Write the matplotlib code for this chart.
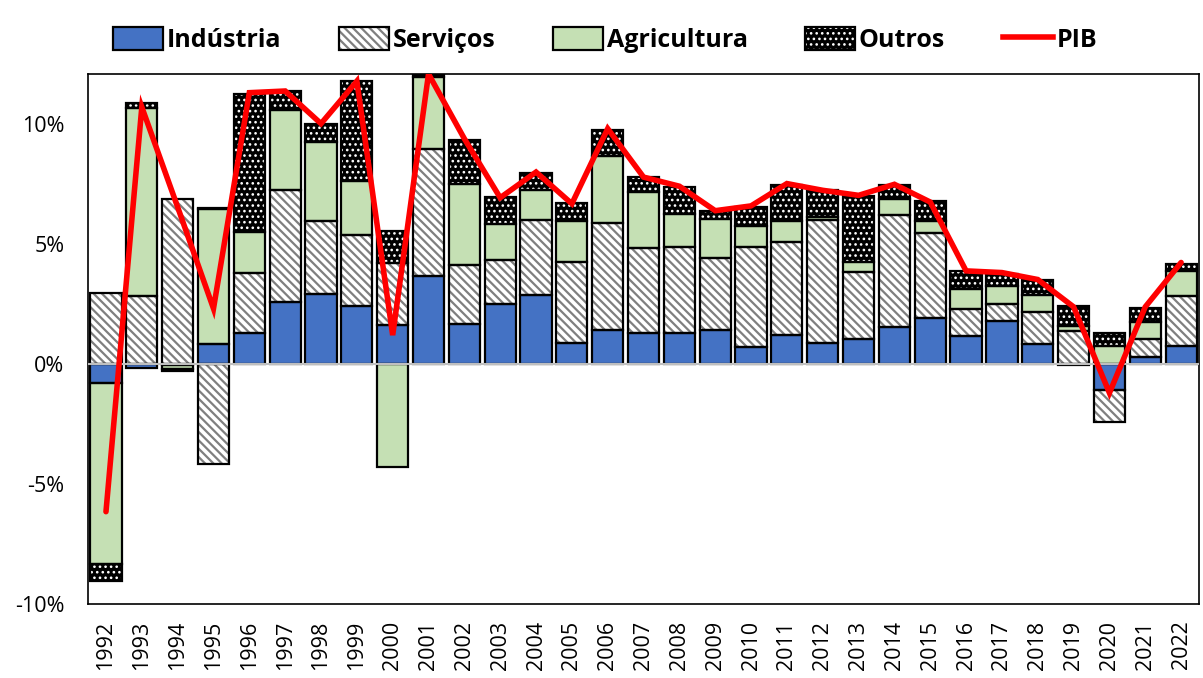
import numpy as np
import matplotlib.pyplot as plt
from matplotlib.patches import Patch, Rectangle
from matplotlib.lines import Line2D
from matplotlib.legend_handler import HandlerTuple, HandlerPatch

plt.rcParams['font.family'] = ['Open Sans', 'DejaVu Sans']

anos = list(range(1992, 2023))

industria = [-0.80, -0.17, -0.05, 0.83, 1.32, 2.58, 2.94, 2.43, 1.63, 3.67,
             1.69, 2.49, 2.88, 0.90, 1.42, 1.31, 1.31, 1.44, 0.72, 1.21,
             0.90, 1.03, 1.53, 1.93, 1.18, 1.79, 0.83, -0.05, -1.08, 0.28, 0.76]
servicos = [2.95, 2.83, 6.89, -4.17, 2.50, 4.67, 3.03, 2.96, 2.59, 5.32,
            2.44, 1.87, 3.12, 3.36, 4.48, 3.55, 3.58, 3.00, 4.17, 3.89,
            5.13, 2.80, 4.71, 3.54, 1.14, 0.74, 1.35, 1.39, -1.32, 0.79, 2.07]
agricultura = [-7.53, 7.87, -0.15, 5.63, 1.71, 3.33, 3.31, 2.24, -4.30, 2.98,
               3.37, 1.47, 1.28, 1.70, 2.77, 2.32, 1.36, 1.60, 0.86, 0.87,
               0.11, 0.41, 0.63, 0.49, 0.83, 0.73, 0.70, 0.21, 0.75, 0.69, 1.06]
outros = [-0.71, 0.19, -0.10, 0.05, 5.75, 0.80, 0.72, 4.16, 1.32, 0.10,
          1.86, 1.14, 0.71, 0.76, 1.11, 0.63, 1.14, 0.35, 0.81, 1.50,
          1.11, 2.79, 0.60, 0.83, 0.74, 0.52, 0.62, 0.83, 0.53, 0.60, 0.30]
pib = [-6.15, 10.72, 6.55, 2.32, 11.32, 11.39, 10.03, 11.80, 1.21, 12.10,
       9.40, 6.94, 8.01, 6.69, 9.82, 7.80, 7.42, 6.40, 6.60, 7.53,
       7.25, 7.04, 7.50, 6.76, 3.89, 3.82, 3.53, 2.39, -1.20, 2.39, 4.24]

# nome, valores, cor, hachura, cor da hachura, espessura da hachura
series = [
    ('Indústria', industria, '#4472C4', None, '#4472C4', 1.0),
    ('Serviços', servicos, 'white', '\\\\\\\\', '#7F7F7F', 1.6),
    ('Agricultura', agricultura, '#C5E0B4', None, '#C5E0B4', 1.0),
    ('Outros', outros, 'black', '...', 'white', 1.1),
]

fig = plt.figure(figsize=(12.03, 6.78), dpi=100)
ax = fig.add_axes([0.0732, 0.1091, 0.9235, 0.7818])


def make_patch_func(fc, hatch, hc, hlw):
    # cria o retângulo da legenda com a espessura certa da hachura
    def f(legend, orig_handle, xdescent, ydescent, width, height, fontsize):
        plt.rcParams['hatch.linewidth'] = hlw
        return Rectangle((-xdescent, -ydescent), width, height,
                         facecolor=fc, hatch=hatch, edgecolor=hc, linewidth=0)
    return f


x = np.arange(len(anos))
w = 0.87
pos_base = np.zeros(len(anos))
neg_base = np.zeros(len(anos))
handles = []
hmap = {tuple: HandlerTuple(ndivide=1)}
for nome, vals, fc, hatch, hc, hlw in series:
    plt.rcParams['hatch.linewidth'] = hlw
    v = np.array(vals)
    base = np.where(v >= 0, pos_base, neg_base)
    ax.bar(x, v, w, bottom=base, color=fc, hatch=hatch, edgecolor=hc,
           linewidth=0, zorder=2)
    ax.bar(x, v, w, bottom=base, fill=False, edgecolor='black',
           linewidth=1.6, zorder=3)
    pos_base = np.where(v >= 0, pos_base + v, pos_base)
    neg_base = np.where(v < 0, neg_base + v, neg_base)
    p1 = Patch(facecolor=fc, hatch=hatch, edgecolor=hc, linewidth=0)
    p2 = Patch(fill=False, edgecolor='black', linewidth=1.6)
    hmap[p1] = HandlerPatch(patch_func=make_patch_func(fc, hatch, hc, hlw))
    handles.append((p1, p2))

ax.axhline(0, color='#BFBFBF', linewidth=1.5, zorder=4)
ax.plot(x, pib, color='#FF0000', linewidth=4, solid_capstyle='round',
        solid_joinstyle='miter', zorder=5)
handles.append(Line2D([0], [0], color='#FF0000', linewidth=4))

ax.set_xlim(-0.5, len(anos) - 0.5)
ax.set_ylim(-10, 12.1)
ax.set_yticks([-10, -5, 0, 5, 10])
ax.set_yticklabels(['-10%', '-5%', '0%', '5%', '10%'], fontsize=15.5)
ax.set_xticks(x)
ax.set_xticklabels([str(a) for a in anos], rotation=90, fontsize=15.5)
ax.tick_params(axis='y', length=0, pad=17)
ax.tick_params(axis='x', length=0, pad=12)
for s in ax.spines.values():
    s.set_color('black')
    s.set_linewidth(1.2)

labels = ['Indústria', 'Serviços', 'Agricultura', 'Outros', 'PIB']
fig.legend(handles, labels, loc='upper center', bbox_to_anchor=(0.503, 0.993),
           ncol=5, frameon=False, handler_map=hmap,
           prop={'weight': 'bold', 'size': 18}, handlelength=2.0,
           handleheight=1.0, columnspacing=2.3, handletextpad=0.15)

fig.savefig('out.png', dpi=100)
